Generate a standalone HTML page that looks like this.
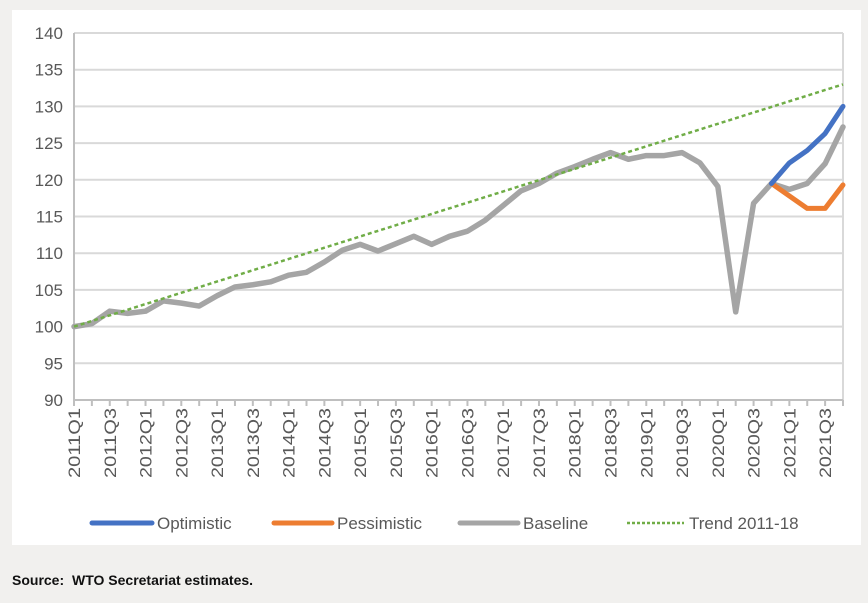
<!DOCTYPE html>
<html><head><meta charset="utf-8"><style>
body{margin:0;background:#f1f0ee;width:868px;height:598px;overflow:hidden;font-family:"Liberation Sans",sans-serif;}
</style></head><body>
<svg width="868" height="598" xmlns="http://www.w3.org/2000/svg" font-family="Liberation Sans, sans-serif">
<rect x="12" y="10" width="849" height="535" fill="#fff"/>
<g id="grid" stroke="#d9d9d9" stroke-width="2"></g>
<g id="ylab" fill="#595959" font-size="17" text-anchor="end"></g>
<g id="xlab" fill="#595959" font-size="17"></g>
<g id="series" fill="none" stroke-linejoin="round" stroke-linecap="round"></g>
<g font-size="17" fill="#595959">
<line x1="92" y1="523" x2="152" y2="523" stroke="#4472c4" stroke-width="5" stroke-linecap="round"/>
<text x="157" y="529">Optimistic</text>
<line x1="274" y1="523" x2="332" y2="523" stroke="#ed7d31" stroke-width="5" stroke-linecap="round"/>
<text x="337" y="529">Pessimistic</text>
<line x1="460" y1="523" x2="518" y2="523" stroke="#a5a5a5" stroke-width="5" stroke-linecap="round"/>
<text x="523" y="529">Baseline</text>
<line x1="627" y1="523" x2="684" y2="523" stroke="#70ad47" stroke-width="2.5" stroke-dasharray="3,2"/>
<text x="689" y="529">Trend 2011-18</text>
</g>
<text x="12" y="585" font-size="14" font-weight="bold" fill="#111">Source:</text>
<text x="72" y="585" font-size="14" font-weight="bold" fill="#111">WTO Secretariat estimates.</text>
</svg>
<script>
const NS="http://www.w3.org/2000/svg";
const X0=74,X1=843,Y=v=>33+(140-v)*7.34,X=i=>X0+i*(X1-X0)/43;
function el(p,t,a,txt){const e=document.createElementNS(NS,t);for(const k in a)e.setAttribute(k,a[k]);if(txt)e.textContent=txt;document.getElementById(p).appendChild(e);return e;}
for(let v=90;v<=140;v+=5){el("grid","line",{x1:X0,x2:X1,y1:Y(v),y2:Y(v)});el("ylab","text",{x:63,y:Y(v)+6},String(v));}
el("grid","line",{x1:X0,x2:X0,y1:33,y2:Y(90),stroke:"#bfbfbf"});
el("grid","line",{x1:X1,x2:X1,y1:33,y2:Y(90),stroke:"#d9d9d9"});
el("grid","line",{x1:X0,x2:X1,y1:Y(90),y2:Y(90),stroke:"#bfbfbf"});
for(let i=0;i<44;i++){el("grid","line",{x1:X(i),x2:X(i),y1:Y(90),y2:Y(90)+6,stroke:"#bfbfbf"});
 if(i%2==0){const yr=2011+Math.floor(i/4),q=i%4+1;const x=X(i)+6;el("xlab","text",{x:x,y:408,transform:`rotate(-90 ${x} 408)`,"text-anchor":"end",textLength:70,lengthAdjust:"spacingAndGlyphs"},yr+"Q"+q);}}
const base=[100,100.4,102.1,101.8,102.1,103.5,103.2,102.8,104.2,105.4,105.7,106.1,107,107.4,108.8,110.4,111.2,110.3,111.3,112.3,111.2,112.3,113,114.5,116.5,118.5,119.5,120.9,121.8,122.8,123.7,122.8,123.3,123.3,123.7,122.3,119.1,102,116.8,119.5,118.7,119.5,122.2,127.2];
function pl(pts,c,w,d){const a={points:pts.map(([i,v])=>X(i)+","+Y(v)).join(" "),stroke:c,"stroke-width":w};if(d){a["stroke-dasharray"]=d;a["stroke-linecap"]="butt";}el("series","polyline",a);}
pl(base.map((v,i)=>[i,v]),"#a5a5a5",5.5);
pl([[39,119.5],[40,117.8],[41,116.1],[42,116.1],[43,119.3]],"#ed7d31",5);
pl([[39,119.5],[40,122.3],[41,124],[42,126.3],[43,130]],"#4472c4",5);
pl([[0,100],[43,133]],"#70ad47",2.5,"4,3");
</script>
</body></html>
